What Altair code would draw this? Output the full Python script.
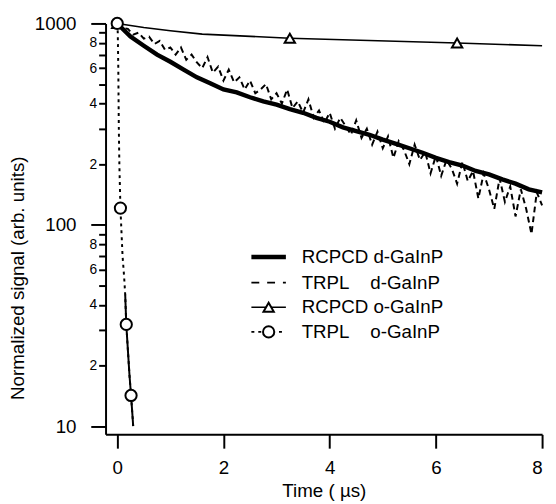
import altair as alt
import pandas as pd

FONT = "Liberation Sans"

# ---- data ----
# RCPCD d-GaInP (thick solid)
rcpcd_d_t = [0, 0.25, 0.5, 0.75, 1.0, 1.25, 1.5, 1.75, 2.0, 2.25, 2.5, 2.75, 3.0, 3.25, 3.5, 3.75,
             4.0, 4.25, 4.5, 4.75, 5.0, 5.25, 5.5, 5.75, 6.0, 6.25, 6.5, 6.75, 7.0, 7.25, 7.5, 7.75, 8.0]
rcpcd_d_v = [1000, 860, 775, 700, 645, 590, 540, 505, 470, 455, 430, 410, 395, 375, 360, 340,
             325, 305, 292, 280, 265, 252, 240, 228, 215, 205, 197, 185, 178, 168, 160, 150, 145]

# TRPL d-GaInP (dashed, noisy)
trpl_d_t = [0.0, 0.1, 0.2, 0.3, 0.4, 0.5, 0.6, 0.7, 0.8, 0.9, 1.0, 1.1, 1.2, 1.3, 1.4, 1.5, 1.6, 1.7,
            1.8, 1.9, 2.0, 2.1, 2.2, 2.3, 2.4, 2.5, 2.6, 2.7, 2.8, 2.9, 3.0, 3.1, 3.2, 3.3, 3.4, 3.5,
            3.6, 3.7, 3.8, 3.9, 4.0, 4.1, 4.2, 4.3, 4.4, 4.5, 4.6, 4.7, 4.8, 4.9, 5.0, 5.1, 5.2, 5.3,
            5.4, 5.5, 5.6, 5.7, 5.8, 5.9, 6.0, 6.1, 6.2, 6.3, 6.4, 6.5, 6.6, 6.7, 6.8, 6.9, 7.0, 7.1,
            7.2, 7.3, 7.4, 7.5, 7.6, 7.7, 7.8, 7.9, 8.0]
trpl_d_v = [1000, 950, 940, 880, 900, 840, 860, 790, 820, 740, 760, 700, 760, 660, 700, 640, 600, 680,
            570, 610, 520, 590, 510, 540, 470, 520, 450, 470, 500, 420, 450, 400, 470, 380, 410, 360,
            420, 340, 370, 320, 360, 300, 340, 310, 280, 330, 270, 300, 250, 290, 240, 275, 215, 260,
            235, 200, 250, 210, 230, 180, 220, 175, 210, 190, 160, 205, 165, 185, 135, 180, 150, 120,
            170, 130, 155, 110, 150, 120, 90, 145, 125]

# RCPCD o-GaInP (thin solid with triangles)
rcpcd_o_t = [0, 0.5, 1.0, 1.6, 3.25, 6.4, 8.0]
rcpcd_o_v = [1000, 955, 920, 885, 845, 800, 775]
rcpcd_o_mark_t = [0, 3.25, 6.4]
rcpcd_o_mark_v = [1000, 845, 800]

# TRPL o-GaInP (dotted with circles)
trpl_o_t = [0, 0.01, 0.02, 0.03, 0.04, 0.06, 0.1, 0.13, 0.15, 0.17, 0.2, 0.23, 0.26, 0.29, 0.3]
trpl_o_v = [1000, 900, 600, 300, 200, 121, 70, 55, 45, 32, 24, 18, 14.2, 11, 10]
trpl_o_mark_t = [0, 0.06, 0.17, 0.26]
trpl_o_mark_v = [1000, 121, 32, 14.2]

legend_labels = ["RCPCD d-GaInP", "TRPL\u00a0\u00a0\u00a0\u00a0d-GaInP",
                 "RCPCD o-GaInP", "TRPL\u00a0\u00a0\u00a0\u00a0o-GaInP"]

y_ticks = [10, 20, 30, 40, 50, 60, 70, 80, 90, 100, 200, 300, 400, 500, 600, 700, 800, 900, 1000]
x_ticks = [0, 2, 4, 6, 8]

# ---- scales / axes ----
xs = alt.Scale(domain=[-0.22, 8], nice=False, zero=False)
ys = alt.Scale(type="log", domain=[9.1, 1000], nice=False)

major_test = "indexof([10,100,1000], datum.value) >= 0"
x_axis = alt.Axis(values=x_ticks, title="Time ( \u00b5s)", grid=False, tickSize=14, tickWidth=2,
                  domainWidth=2, domainColor="black", tickColor="black", labelFont=FONT,
                  labelFontSize=19, labelColor="black", labelPadding=11, titleFont=FONT,
                  titleFontSize=19, titleFontWeight="normal", titleColor="black", titlePadding=4,
                  format="d")
y_axis = alt.Axis(values=y_ticks, title="Normalized signal (arb. units)", grid=False, format="d",
                  labelExpr="indexof([10,100,1000], datum.value) >= 0 ? datum.label : "
                            "(indexof([20,40,60,80,200,400,600,800], datum.value) >= 0 ? slice(datum.label, 0, 1) : '')",
                  tickSize={"condition": {"test": major_test, "value": 15}, "value": 7},
                  labelFontSize={"condition": {"test": major_test, "value": 19}, "value": 14},
                  labelPadding={"condition": {"test": major_test, "value": 15}, "value": 2},
                  tickWidth=2, domainWidth=2, domainColor="black", tickColor="black",
                  labelFont=FONT, labelColor="black", titleFont=FONT, titleFontSize=19,
                  titleFontWeight="normal", titleColor="black", titleX=-89, titleY=258,
                  titleBaseline="middle", titleAngle=270)


def xy():
    return dict(
        x=alt.X("t:Q", scale=xs, axis=x_axis),
        y=alt.Y("v:Q", scale=ys, axis=y_axis),
    )


rcpcd_d = pd.DataFrame({"t": rcpcd_d_t, "v": rcpcd_d_v})
trpl_d = pd.DataFrame({"t": trpl_d_t, "v": trpl_d_v})
rcpcd_o = pd.DataFrame({"t": rcpcd_o_t, "v": rcpcd_o_v})
rcpcd_o_m = pd.DataFrame({"t": rcpcd_o_mark_t, "v": rcpcd_o_mark_v})
trpl_o = pd.DataFrame({"t": trpl_o_t, "v": trpl_o_v})
trpl_o_solid = trpl_o[trpl_o["t"] >= 0.15]
trpl_o_m = pd.DataFrame({"t": trpl_o_mark_t, "v": trpl_o_mark_v})

layers = [
    alt.Chart(rcpcd_o).mark_line(color="black", strokeWidth=1.6).encode(**xy()),
    alt.Chart(trpl_d).mark_line(color="black", strokeWidth=2, strokeDash=[6, 4]).encode(**xy()),
    alt.Chart(rcpcd_d).mark_line(color="black", strokeWidth=4.5).encode(**xy()),
    alt.Chart(trpl_o).mark_line(color="black", strokeWidth=2, strokeDash=[3, 4]).encode(**xy()),
    alt.Chart(trpl_o_solid).mark_line(color="black", strokeWidth=2).encode(**xy()),
    alt.Chart(rcpcd_o_m).mark_point(shape="triangle-up", filled=True, fill="white", stroke="black",
                                    strokeWidth=2, size=110, opacity=1).encode(**xy()),
    alt.Chart(trpl_o_m).mark_point(shape="circle", filled=True, fill="white", stroke="black",
                                   strokeWidth=2, size=130, opacity=1).encode(**xy()),
]

# ---- legend (drawn by hand) ----
LX1, LX2, LTX = 148, 183, 199
rows = [237, 263, 288, 313]
one = pd.DataFrame({"k": [0]})
layers += [
    alt.Chart(one).mark_rule(color="black", strokeWidth=4.5).encode(
        x=alt.value(LX1), x2=alt.value(LX2), y=alt.value(rows[0])),
    alt.Chart(one).mark_rule(color="black", strokeWidth=2, strokeDash=[8, 8]).encode(
        x=alt.value(LX1), x2=alt.value(LX2), y=alt.value(rows[1])),
    alt.Chart(one).mark_rule(color="black", strokeWidth=1.6).encode(
        x=alt.value(LX1), x2=alt.value(LX2), y=alt.value(rows[2])),
    alt.Chart(one).mark_point(shape="triangle-up", filled=True, fill="white", stroke="black",
                              strokeWidth=2, size=110, opacity=1).encode(
        x=alt.value((LX1 + LX2) / 2), y=alt.value(rows[2])),
    alt.Chart(one).mark_rule(color="black", strokeWidth=2, strokeDash=[3, 4]).encode(
        x=alt.value(LX1), x2=alt.value(LX2), y=alt.value(rows[3])),
    alt.Chart(one).mark_point(shape="circle", filled=True, fill="white", stroke="black",
                              strokeWidth=2, size=130, opacity=1).encode(
        x=alt.value((LX1 + LX2) / 2), y=alt.value(rows[3])),
]
for lab, ry in zip(legend_labels, rows):
    layers.append(
        alt.Chart(pd.DataFrame({"label": [lab]})).mark_text(
            align="left", baseline="middle", font=FONT, fontSize=19, color="black").encode(
            x=alt.value(LTX), y=alt.value(ry), text="label:N"))

chart = alt.layer(*layers).properties(
    width=443, height=417,
    autosize=alt.AutoSizeParams(type="none"),
    padding={"left": 99, "top": 12, "right": 6, "bottom": 68},
    background="white",
).configure_view(stroke=None)

chart.save("out.html", embed_options={"renderer": "svg", "actions": False})
